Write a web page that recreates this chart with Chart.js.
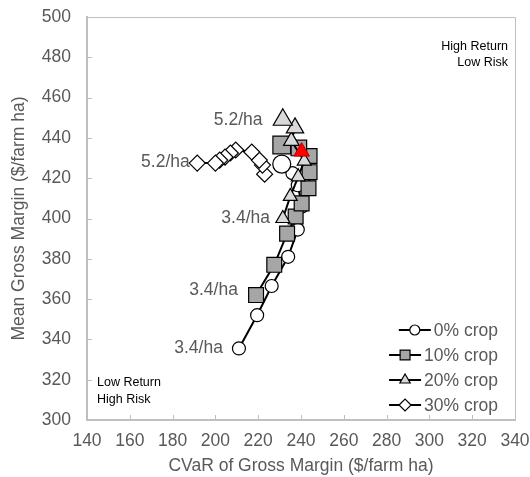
<!DOCTYPE html>
<html>
<head>
<meta charset="utf-8">
<script src="https://cdn.jsdelivr.net/npm/chart.js@4.4.1/dist/chart.umd.min.js"></script>
<style>
  html, body { margin: 0; padding: 0; background: #fff; }
</style>
</head>
<body>
<canvas id="myChart" width="530" height="477"></canvas>
<script>
// series names
const seriesNames = ["0% crop", "10% crop", "20% crop", "30% crop"];

// CVaR (x) and mean gross margin (y), $/farm ha
const crop0X = [211, 219.5, 226.3, 234, 238.5, 240.5, 238.5, 236, 231];
const crop0Y = [335.5, 352, 366.5, 381, 394.5, 406, 416.5, 422.5, 427];
const crop10X = [219, 227.5, 233.5, 237.5, 240.3, 243.5, 244, 244, 239, 231];
const crop10Y = [362, 377, 392.5, 401, 407.5, 415, 423, 431, 435, 436.5];
const crop20X = [231.5, 235, 238.7, 241.5, 235.5, 237.2, 231.5];
const crop20Y = [400, 411, 420.7, 428.5, 438.5, 445, 449];
const crop30X = [223, 222, 220.5, 217, 209.5, 207, 204.5, 202, 200, 191.5];
const crop30Y = [422, 426.5, 429, 433, 434, 432.5, 430.5, 429, 427.5, 427.5];
// highlighted point
const redX = [240.3];
const redY = [433.2];

// axis ticks
const xTicks = [140, 160, 180, 200, 220, 240, 260, 280, 300, 320, 340];
const yTicks = [300, 320, 340, 360, 380, 400, 420, 440, 460, 480, 500];

// price labels: text, x, y
const priceLabels = ["5.2/ha", "5.2/ha", "3.4/ha", "3.4/ha", "3.4/ha"];
const priceLabelX = [222, 188, 225.5, 210.5, 203.5];
const priceLabelY = [449, 428, 400, 364.5, 335.5];

function toPoints(xs, ys) {
  return xs.map((x, i) => ({ x: x, y: ys[i] }));
}

const FONT = "'Liberation Sans', Arial, sans-serif";
const FS = 17.5;
const TEXT = "#595959";
const AXIS = "#bfbfbf";

// last point markers bigger
function bigLast(n, small, big) {
  const r = [];
  for (let i = 0; i < n; i++) r.push(i === n - 1 ? big : small);
  return r;
}

const datasets = [
  {
    label: seriesNames[0],
    data: toPoints(crop0X, crop0Y),
    pointStyle: "circle",
    pointRadius: bigLast(crop0X.length, 6.5, 9),
    backgroundColor: "#ffffff",
    legendRadius: 5,
    order: 3,
  },
  {
    label: seriesNames[1],
    data: toPoints(crop10X, crop10Y),
    pointStyle: "rect",
    pointRadius: [10.5, 10.5, 10.5, 10.5, 10.5, 10.5, 10.5, 10.5, 11, 12.5],
    backgroundColor: "#a6a6a6",
    legendRadius: 7,
    order: 2,
  },
  {
    label: seriesNames[2],
    data: toPoints(crop20X, crop20Y),
    pointStyle: "triangle",
    pointRadius: [8, 8, 8, 8, 9, 10, 11],
    backgroundColor: "#d9d9d9",
    legendRadius: 6,
    order: 1,
  },
  {
    label: seriesNames[3],
    data: toPoints(crop30X, crop30Y),
    pointStyle: "rectRot",
    pointRadius: 8,
    backgroundColor: "#ffffff",
    legendRadius: 6,
    order: 0,
  },
].map((d) => Object.assign(d, {
  showLine: true,
  borderColor: "#000000",
  borderWidth: 2,
  pointBorderColor: "#000000",
  pointBorderWidth: 1.2,
  pointBackgroundColor: d.backgroundColor,
}));

datasets.push({
  label: "highlight",
  data: toPoints(redX, redY),
  pointStyle: "triangle",
  pointRadius: 9,
  pointBackgroundColor: "#ff0000",
  pointBorderColor: "#c00000",
  pointBorderWidth: 1,
  showLine: false,
  order: -1,
});

// box, inner ticks, text labels and legend
const decorPlugin = {
  id: "decor",
  beforeDatasetsDraw(chart) {
    const ctx = chart.ctx;
    const a = chart.chartArea;
    const xs = chart.scales.x;
    const ys = chart.scales.y;
    ctx.save();
    ctx.strokeStyle = AXIS;
    ctx.lineWidth = 1;
    ctx.beginPath();
    ctx.moveTo(a.left, a.top + 0.5);
    ctx.lineTo(a.right + 0.5, a.top + 0.5);
    ctx.lineTo(a.right + 0.5, a.bottom);
    ctx.stroke();
    ctx.beginPath();
    xTicks.forEach((v) => {
      const px = Math.round(xs.getPixelForValue(v)) + 0.5;
      ctx.moveTo(px, a.bottom);
      ctx.lineTo(px, a.bottom - 5);
    });
    yTicks.forEach((v) => {
      const py = Math.round(ys.getPixelForValue(v)) + 0.5;
      ctx.moveTo(a.left, py);
      ctx.lineTo(a.left + 5, py);
    });
    ctx.stroke();
    ctx.restore();
  },
  afterDatasetsDraw(chart) {
    const ctx = chart.ctx;
    const a = chart.chartArea;
    const xs = chart.scales.x;
    const ys = chart.scales.y;
    ctx.save();
    ctx.fillStyle = TEXT;
    ctx.textBaseline = "middle";

    // price labels
    ctx.font = FS + "px " + FONT;
    ctx.textAlign = "right";
    priceLabels.forEach((t, i) => {
      ctx.fillText(t, xs.getPixelForValue(priceLabelX[i]), ys.getPixelForValue(priceLabelY[i]));
    });

    // corner notes
    ctx.font = "12.5px " + FONT;
    ctx.fillStyle = "#000000";
    ctx.textAlign = "right";
    ctx.fillText("High Return", a.right - 7, a.top + 30);
    ctx.fillText("Low Risk", a.right - 7, a.top + 46);
    ctx.textAlign = "left";
    ctx.fillText("Low Return", a.left + 10, a.bottom - 37);
    ctx.fillText("High Risk", a.left + 10, a.bottom - 20);

    // legend, right aligned entries
    ctx.font = FS + "px " + FONT;
    const rx = a.right - 17;
    datasets.slice(0, 4).forEach((d, i) => {
      const y = a.bottom - 90 + i * 25;
      const tw = ctx.measureText(d.label).width;
      const lx = rx - tw - 35;
      ctx.strokeStyle = "#000000";
      ctx.lineWidth = 2;
      ctx.beginPath();
      ctx.moveTo(lx, y);
      ctx.lineTo(lx + 32, y);
      ctx.stroke();
      ctx.fillStyle = d.backgroundColor;
      ctx.strokeStyle = "#000000";
      ctx.lineWidth = 1.2;
      Chart.helpers.drawPoint(ctx, {
        pointStyle: d.pointStyle,
        rotation: 0,
        radius: d.legendRadius,
        borderWidth: 1.2,
      }, lx + 16, y);
      ctx.fillStyle = TEXT;
      ctx.textAlign = "left";
      ctx.fillText(d.label, lx + 35, y + 1);
    });
    ctx.restore();
  },
};

const ctx = document.getElementById("myChart").getContext("2d");
const myChart = new Chart(ctx, {
  type: "scatter",
  data: { datasets: datasets },
  options: {
    responsive: false,
    animation: false,
    layout: { padding: { top: 17, right: 15, left: 0, bottom: 0 } },
    plugins: { legend: { display: false }, tooltip: { enabled: false } },
    scales: {
      x: {
        type: "linear",
        min: 140,
        max: 340,
        afterBuildTicks: (s) => { s.ticks = xTicks.map((v) => ({ value: v })); },
        afterFit: (s) => { s.height = 57; s.paddingLeft = 0; s.paddingRight = 0; },
        grid: { display: false, drawTicks: false },
        border: { color: AXIS, width: 2 },
        ticks: { color: TEXT, font: { family: FONT, size: FS }, padding: 11, maxRotation: 0 },
        title: {
          display: true,
          text: "CVaR of Gross Margin ($/farm ha)",
          color: TEXT,
          font: { family: FONT, size: FS },
          padding: { top: 0, bottom: 0 },
        },
      },
      y: {
        type: "linear",
        min: 300,
        max: 500,
        afterBuildTicks: (s) => { s.ticks = yTicks.map((v) => ({ value: v })); },
        afterFit: (s) => { s.width = 87; s.paddingTop = 0; s.paddingBottom = 0; },
        grid: { display: false, drawTicks: false },
        border: { color: AXIS, width: 2 },
        ticks: { color: TEXT, font: { family: FONT, size: FS }, padding: 16 },
        title: {
          display: true,
          text: "Mean Gross Margin ($/farm ha)",
          color: TEXT,
          font: { family: FONT, size: FS },
          padding: { top: 9, bottom: 0 },
        },
      },
    },
  },
  plugins: [decorPlugin],
});
</script>
</body>
</html>
